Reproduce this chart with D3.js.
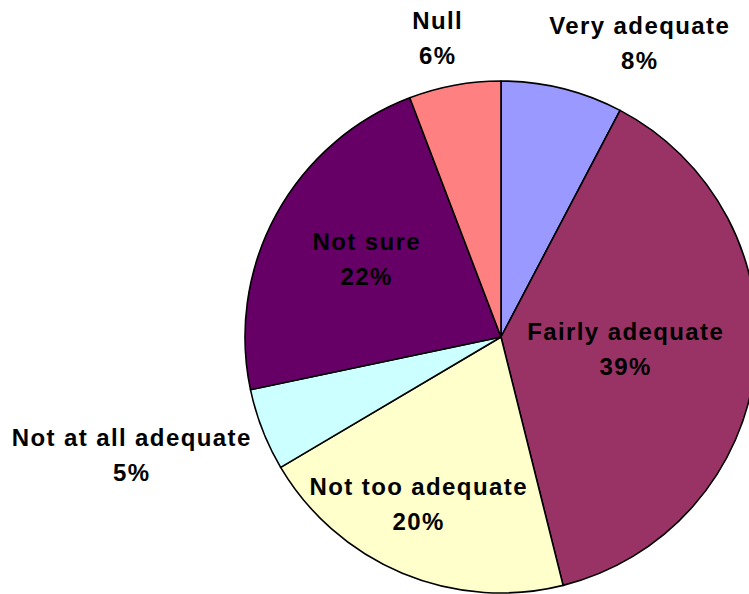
<!DOCTYPE html>
<html>
<head>
<meta charset="utf-8">
<script src="https://cdn.jsdelivr.net/npm/d3@7"></script>
<style>
  html, body { margin: 0; padding: 0; background: #fff; }
  svg { display: block; }
  text { font-family: "Liberation Sans", Arial, sans-serif; font-weight: bold; }
</style>
</head>
<body>
<svg id="chart" width="749" height="594"></svg>
<script>
const categories = ["Very adequate", "Fairly adequate", "Not too adequate", "Not at all adequate", "Not sure", "Null"];
const values = [7.7, 38.4, 20.4, 5.2, 22.5, 5.8];
const percentLabels = ["8%", "39%", "20%", "5%", "22%", "6%"];
const colors = ["#9999FF", "#993366", "#FFFFCC", "#CCFFFF", "#660066", "#FF8080"];
// label anchor positions in chart coordinates (center x, first baseline y)
const labelPos = [[639, 34], [625, 340], [418, 495], [131, 446], [366, 250], [437, 29]];

const data = categories.map((c, i) => ({ name: c, value: values[i], pct: percentLabels[i], color: colors[i], pos: labelPos[i] }));

const svg = d3.select("#chart");
const cx = 501, cy = 337, r = 256;

const pie = d3.pie().value(d => d.value).sort(null);
const arc = d3.arc().innerRadius(0).outerRadius(r);

const g = svg.append("g").attr("transform", `translate(${cx},${cy})`);
g.selectAll("path")
  .data(pie(data))
  .join("path")
  .attr("d", arc)
  .attr("fill", d => d.data.color)
  .attr("stroke", "#000")
  .attr("stroke-width", 1.6)
  .attr("stroke-linejoin", "round");

const fs = 24, ls = 1.4, lh = 34.5;
const labels = svg.append("g");
data.forEach(d => {
  const t = labels.append("text")
    .attr("text-anchor", "middle")
    .attr("font-size", fs)
    .attr("letter-spacing", ls)
    .attr("fill", "#000");
  t.append("tspan").attr("x", d.pos[0] + ls / 2).attr("y", d.pos[1]).text(d.name);
  t.append("tspan").attr("x", d.pos[0] + ls / 2).attr("y", d.pos[1] + lh).text(d.pct);
});
</script>
</body>
</html>
